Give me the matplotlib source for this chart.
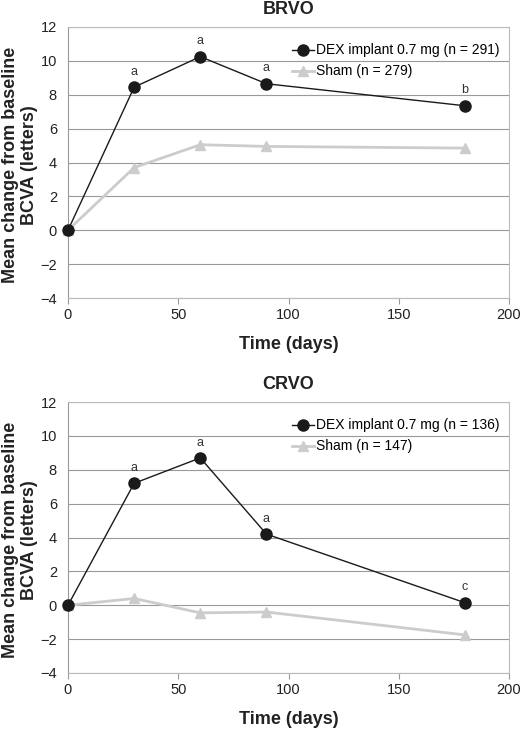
import matplotlib.pyplot as plt

plt.rcParams['font.family'] = ['Liberation Sans', 'DejaVu Sans']

# --- data ---
days = [0, 30, 60, 90, 180]

brvo_dex = [0, 8.45, 10.25, 8.65, 7.35]
brvo_sham = [0, 3.7, 5.05, 4.95, 4.85]
brvo_marks = ['', 'a', 'a', 'a', 'b']

crvo_dex = [0, 7.2, 8.7, 4.2, 0.15]
crvo_sham = [0, 0.4, -0.45, -0.4, -1.75]
crvo_marks = ['', 'a', 'a', 'a', 'c']

panels = [
    ('BRVO', brvo_dex, brvo_sham, brvo_marks, 'DEX implant 0.7 mg (n = 291)', 'Sham (n = 279)'),
    ('CRVO', crvo_dex, crvo_sham, crvo_marks, 'DEX implant 0.7 mg (n = 136)', 'Sham (n = 147)'),
]

fig = plt.figure(figsize=(5.21, 7.30), dpi=100)
W, H = 521, 730
# axes boxes in pixels: left, top, right, bottom
boxes = [(68, 27, 509, 298), (68, 402, 509, 673)]

for (title, dex, sham, marks, lab_dex, lab_sham), (l, t, r, b) in zip(panels, boxes):
    ax = fig.add_axes([l / W, 1 - b / H, (r - l) / W, (b - t) / H])

    ax.plot(days, sham, color='#cccccc', lw=2, marker='^', ms=7, label=lab_sham,
            zorder=3, clip_on=False)
    ax.plot(days, dex, color='#1a1a1a', lw=1, marker='o', ms=8, label=lab_dex,
            zorder=4, clip_on=False)

    for x, y, m in zip(days, dex, marks):
        if m:
            ax.text(x, y + 0.55, m, ha='center', va='bottom', fontsize=9, color='#333333')

    ax.set_xlim(0, 200)
    ax.set_ylim(-4, 12)
    ax.set_xticks([0, 50, 100, 150, 200])
    ax.set_yticks(range(-4, 13, 2))
    ax.set_yticklabels([str(v).replace('-', '\u2212') for v in range(-4, 13, 2)])
    ax.yaxis.grid(True, color='#999999', lw=0.8)
    ax.set_axisbelow(True)
    for s in ax.spines.values():
        s.set_color('#bbbbbb')
    ax.spines['left'].set_color('#999999')
    ax.tick_params(axis='both', labelsize=10.5, labelcolor='#222222', color='#999999', length=4)
    ax.tick_params(axis='y', length=0, pad=8)

    # panel title placed by hand, just above the plot box
    ax.text(0.5, 1.047, title, transform=ax.transAxes, ha='center', va='baseline',
            fontsize=13, fontweight='bold', color='#222222')
    ax.set_xlabel('Time (days)', fontsize=13, fontweight='bold', labelpad=10, color='#222222')
    ax.set_ylabel('Mean change from baseline\nBCVA (letters)', fontsize=13,
                  fontweight='bold', color='#222222', linespacing=1.2)
    ax.yaxis.set_label_coords(-0.109, 0.49)
    ax.yaxis.label.set_verticalalignment('center')

    h, lbl = ax.get_legend_handles_labels()
    ax.legend(h[::-1], lbl[::-1], loc='upper right', frameon=False, fontsize=10,
              handlelength=1.6, handletextpad=0.1, borderaxespad=0.3,
              labelspacing=0.5, bbox_to_anchor=(1.0, 0.975))

fig.savefig('out.png', dpi=100)
